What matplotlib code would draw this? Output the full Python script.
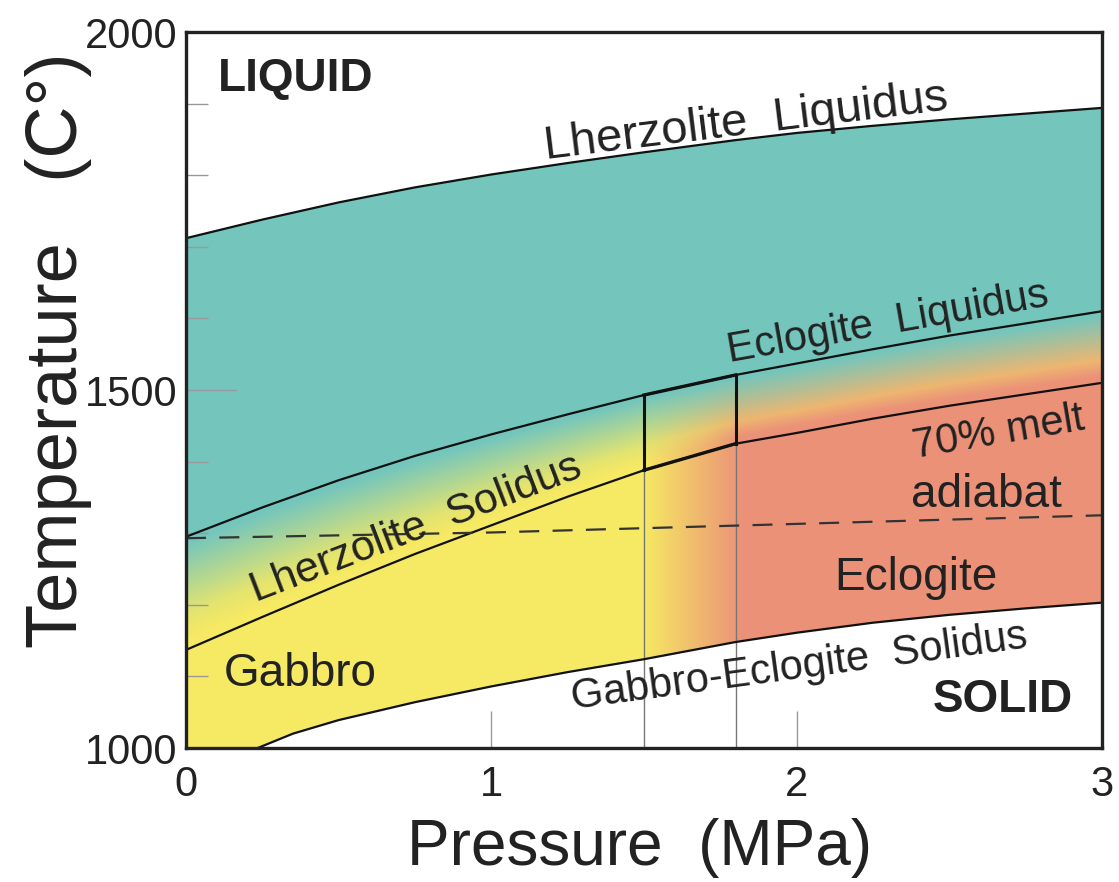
import numpy as np
import matplotlib
matplotlib.use("Agg")
import matplotlib.pyplot as plt

plt.rcParams['font.family'] = ['Liberation Sans', 'DejaVu Sans']

# pressure grid shared by the main curves (MPa, as labelled)
pressure = [0, 0.25, 0.5, 0.75, 1.0, 1.25, 1.5, 1.8, 2.0, 2.25, 2.5, 2.75, 3.0]
lherz_liquidus = [1712, 1738, 1762, 1783, 1801, 1817, 1832, 1849, 1859, 1869, 1878, 1886, 1894]
eclog_liquidus = [1295, 1336, 1374, 1408, 1438, 1466, 1493, 1521, 1537, 1557, 1576, 1593, 1610]
# lherzolite solidus, continuing as the 70% melt line past 1.8
lherz_solidus = [1137, 1183, 1228, 1271, 1311, 1351, 1388, 1425, 1440, 1460, 1478, 1494, 1510]

# gabbro-eclogite solidus starts at the bottom edge
ge_pressure = [0.235, 0.35, 0.5, 0.75, 1.0, 1.25, 1.5, 1.8, 2.0, 2.25, 2.5, 2.75, 3.0]
ge_solidus = [1000, 1020, 1039, 1064, 1086, 1106, 1124, 1148, 1161, 1175, 1186, 1195, 1203]

adiabat_p = [0, 1, 2, 3]
adiabat_t = [1293, 1301, 1313, 1325]

box_p = [1.5, 1.8]

teal = np.array([116, 198, 189]) / 255
yellow = np.array([246, 233, 99]) / 255
salmon = np.array([235, 146, 120]) / 255
orange = np.array([238, 182, 112]) / 255

fig = plt.figure(figsize=(11.19, 8.82), dpi=100)
ax = fig.add_axes([186 / 1119, 1 - 748 / 882, 916 / 1119, 716 / 882])

# background colour field
gx = np.linspace(0, 3, 916)
gy = np.linspace(1000, 2000, 716)
X, Y = np.meshgrid(gx, gy)
top = np.interp(gx, pressure, lherz_liquidus)[None, :]
eliq = np.interp(gx, pressure, eclog_liquidus)[None, :]
lsol = np.interp(gx, pressure, lherz_solidus)[None, :]
gsol = np.interp(gx, ge_pressure, ge_solidus, left=900)[None, :]

w = np.clip((gx - 1.5) / 0.32, 0, 1)[None, :, None]
img = np.ones(X.shape + (3,))

lower = yellow * (1 - w) + salmon * w
lower = np.broadcast_to(lower, img.shape)
mD = (Y >= gsol) & (Y < lsol)
img[mD] = lower[mD]

t = np.clip((Y - lsol) / (eliq - lsol), 0, 1)
stops = [0, 0.1, 0.32, 0.95, 1.0]
left_cols = [yellow, yellow, yellow * 0.85 + teal * 0.15, teal, teal]
right_cols = [salmon, salmon, orange, teal, teal]
left = np.stack([np.interp(t, stops, [c[k] for c in left_cols]) for k in range(3)], axis=-1)
right = np.stack([np.interp(t, stops, [c[k] for c in right_cols]) for k in range(3)], axis=-1)
col = left * (1 - w) + right * w
mC = (Y >= lsol) & (Y < eliq)
img[mC] = col[mC]

mB = (Y >= eliq) & (Y < top)
img[mB] = teal

ax.imshow(img, extent=[0, 3, 1000, 2000], origin='lower', aspect='auto',
          interpolation='bilinear', zorder=0)

# curves
for p, c in [(pressure, lherz_liquidus), (pressure, eclog_liquidus),
             (pressure, lherz_solidus), (ge_pressure, ge_solidus)]:
    ax.plot(p, c, color='#111111', lw=1.6, zorder=3, solid_joinstyle='round')

ax.plot(adiabat_p, adiabat_t, color='#333333', lw=1.6, dashes=(9, 6), zorder=3)

# thin verticals and the box
i0, i1 = pressure.index(box_p[0]), pressure.index(box_p[1])
for i in (i0, i1):
    ax.plot([pressure[i], pressure[i]], [1000, lherz_solidus[i]], color='#777777', lw=1.0, zorder=2)
    ax.plot([pressure[i], pressure[i]], [lherz_solidus[i], eclog_liquidus[i]], color='#111111', lw=2.2, zorder=4)
ax.plot(pressure[i0:i1 + 1], lherz_solidus[i0:i1 + 1], color='#111111', lw=2.4, zorder=4)
ax.plot(pressure[i0:i1 + 1], eclog_liquidus[i0:i1 + 1], color='#111111', lw=2.4, zorder=4)

ax.set_xlim(0, 3)
ax.set_ylim(1000, 2000)

# ticks
ax.set_xticks([0, 1, 2, 3])
ax.set_xticklabels(['0', '1', '2', '3'])
ax.set_yticks([1000, 1500, 2000])
ax.set_yticklabels(['1000', '1500', '2000'])
ax.set_yticks(np.arange(1100, 2000, 100), minor=True)
ax.tick_params(axis='x', direction='in', length=27, width=1.0, color='#999999',
               labelsize=30, pad=12, labelcolor='#222222')
ax.tick_params(axis='y', which='major', direction='in', length=36, width=1.0, color='#999999',
               labelsize=30, pad=6, labelcolor='#222222')
ax.tick_params(axis='y', which='minor', direction='in', length=16, width=1.0, color='#999999')
for s in ax.spines.values():
    s.set_linewidth(2.4)
    s.set_color('#222222')
    s.set_zorder(6)

fig.text(640 / 1119, 1 - 848 / 882, 'Pressure  (MPa)', fontsize=46, color='#222222',
         ha='center', va='center')
fig.text(59 / 1119, 1 - 350 / 882, 'Temperature   (C°)', fontsize=52, color='#222222',
         ha='center', va='center', rotation=90)

# labels
txt = dict(color='#222222', ha='center', va='center', rotation_mode='anchor', zorder=5)
ax.text(0.105, 1935, 'LIQUID', fontsize=33, fontweight='bold', color='#222222', ha='left', va='center')
ax.text(2.676, 1067, 'SOLID', fontsize=33, fontweight='bold', color='#222222', ha='center', va='center')
ax.text(1.834, 1874, 'Lherzolite  Liquidus', fontsize=34, rotation=7, **txt)
ax.text(2.30, 1594, 'Eclogite  Liquidus', fontsize=30, rotation=10, **txt)
ax.text(0.753, 1306, 'Lherzolite  Solidus', fontsize=31, rotation=21, **txt)
ax.text(2.66, 1440, '70% melt', fontsize=30, rotation=9.5, **txt)
ax.text(2.62, 1353, 'adiabat', fontsize=33, **txt)
ax.text(2.39, 1237, 'Eclogite', fontsize=33, **txt)
ax.text(0.373, 1103, 'Gabbro', fontsize=33, **txt)
ax.text(2.01, 1113, 'Gabbro-Eclogite  Solidus', fontsize=30, rotation=7.7, **txt)

fig.savefig('out.png', dpi=100)
